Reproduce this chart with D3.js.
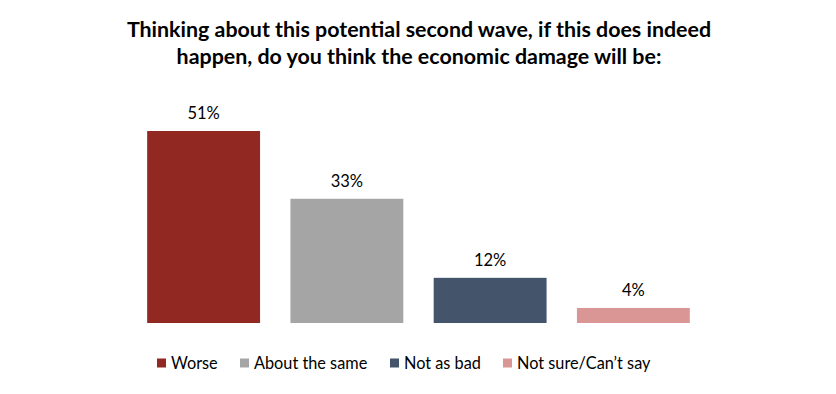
<!DOCTYPE html>
<html><head><meta charset="utf-8">
<script src="https://cdn.jsdelivr.net/npm/d3@7"></script>
<style>body{margin:0;background:#fff}svg{display:block}</style>
</head><body>
<svg id="c" width="836" height="394"></svg>
<script>
const categories = ["Worse", "About the same", "Not as bad", "Not sure/Can\u2019t say"];
const values = [51, 33, 12, 4];
const colors = ["#922822", "#A5A5A5", "#44546A", "#DA9694"];
const titleLines = ["Thinking about this potential second wave, if this does indeed", "happen, do you think the economic damage will be:"];

const svg = d3.select("#c");
const font = "Lato, 'Open Sans', sans-serif";

svg.selectAll("text.title").data(titleLines).join("text")
  .attr("class","title")
  .attr("x", 419).attr("y", (d,i)=>37 + i*27)
  .attr("text-anchor","middle")
  .attr("font-family", font).attr("font-weight","bold").attr("font-size", 21.4)
  .attr("fill","#000").text(d=>d);

const x = d3.scaleBand().domain(categories).range([132, 705]).paddingInner(0.212).paddingOuter(0.106);
const y = d3.scaleLinear().domain([0, 51]).range([323, 131]);

svg.selectAll("rect.bar").data(values).join("rect")
  .attr("class","bar")
  .attr("x",(d,i)=>x(categories[i])).attr("width", x.bandwidth())
  .attr("y", d=>y(d)).attr("height", d=>y(0)-y(d))
  .attr("fill",(d,i)=>colors[i]);

svg.selectAll("text.lbl").data(values).join("text")
  .attr("class","lbl")
  .attr("x",(d,i)=>x(categories[i]) + x.bandwidth()/2)
  .attr("y", d=>y(d) - 12)
  .attr("text-anchor","middle")
  .attr("font-family", font).attr("font-size", 16.5).attr("fill","#000")
  .text(d=>d + "%");

const legX = [157, 240, 390, 503];
const leg = svg.selectAll("g.leg").data(categories).join("g")
  .attr("class","leg").attr("transform",(d,i)=>`translate(${legX[i]},363)`);
leg.append("rect").attr("x",0).attr("y",-4.5).attr("width",9).attr("height",9)
  .attr("fill",(d,i)=>colors[i]);
leg.append("text").attr("x",14).attr("y",6)
  .attr("font-family", font).attr("font-size", 16.3).attr("fill","#000")
  .text(d=>d);
</script>
</body></html>
